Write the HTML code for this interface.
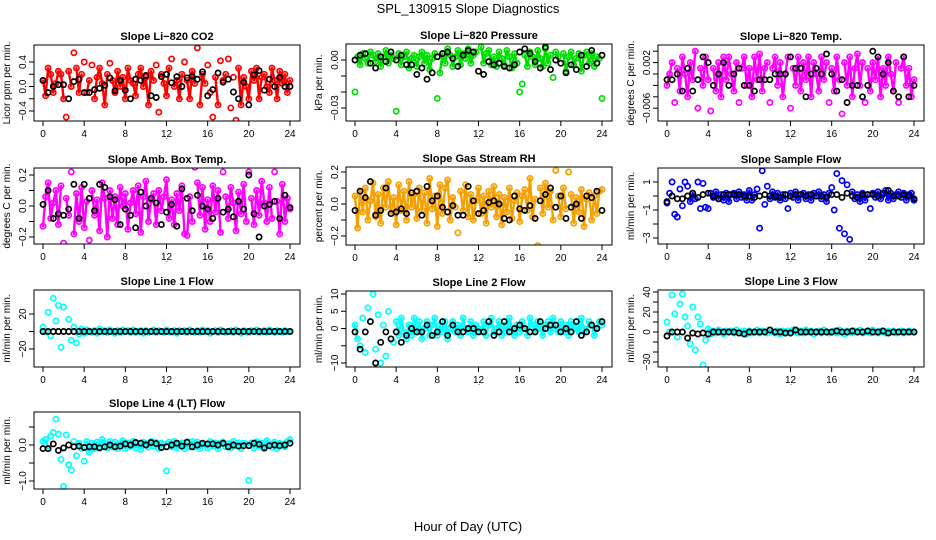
<!DOCTYPE html>
<html><head><meta charset="utf-8">
<style>
html,body{margin:0;padding:0;background:#fff;}
svg{display:block;font-family:"Liberation Sans",Arial,sans-serif;}
</style></head>
<body>
<svg id="chart" width="936" height="540" viewBox="0 0 936 540">
<text x="468" y="13" text-anchor="middle" font-size="13">SPL_130915  Slope Diagnostics</text>
<text x="468" y="531" text-anchor="middle" font-size="13">Hour of Day (UTC)</text>
</svg>
<script>
// ---- data (values per panel; x = evenly spaced hours 0..24) ----
const hourTicks = [0,4,8,12,16,20,24];
const co2Color = [0.1,-0.15,0.3,0.2,-0.1,0.05,0.25,0.2, -0.2,-0.5,0.25,0.0,0.55,0.3,-0.1,0.2, 0.4,-0.1,0.1,0.35,-0.2,0.15,0.3,0.05, -0.3,0.2,0.38,0.1,-0.1,0.25,0.0,0.15, -0.2,0.3,0.1,0.05,-0.15,0.2,0.3,0.0, 0.15,-0.3,0.25,0.1,0.35,-0.42,0.2,0.05, -0.15,0.3,0.45,0.0,0.1,-0.2,0.2,0.4, 0.1,-0.2,0.25,0.05,0.63,-0.3,0.2,0.05, 0.35,-0.1,-0.5,0.15,-0.3,0.42,0.1,0.2, 0.45,-0.35,0.15,-0.55,0.3,-0.3,0.15,0.0, -0.2,0.25,0.1,0.3,-0.2,0.15,0.2,0.0, -0.1,0.3,0.1,-0.2,0.25,0.05,0.2,-0.1, 0.1];
const co2Black = [0.1,-0.1,0.0,0.03,0.03,-0.2,0.08,0.12,-0.1,-0.1,-0.05,-0.03,0.02,0.14,-0.07,0.1,-0.06,-0.2,0.12,0.1,0.18,-0.15,-0.18,0.16,0.2,0.06,0.16,0.0,0.14,0.17,0.12,0.24,-0.15,-0.05,0.22,0.07,0.12,-0.09,-0.2,0.07,-0.3,0.19,0.26,-0.06,0.12,0.0,0.15,0.0,0.0];
const presColor = [-0.02,0.002,-0.003,0.004,0.001,-0.002,0.005,0.003, -0.001,0.004,-0.004,0.002,0.006,-0.002,0.003,0.001, -0.032,0.004,-0.003,0.002,0.005,-0.005,0.001,0.003, -0.004,0.002,0.005,-0.002,0.003,-0.006,0.001,0.004, -0.024,-0.008,0.004,-0.002,0.007,0.003,-0.004,0.002, 0.006,-0.003,0.004,0.001,0.007,-0.002,0.003,0.005, -0.047,0.008,-0.002,0.004,0.006,-0.003,0.002,-0.004, 0.005,0.001,-0.003,0.006,0.002,-0.005,0.004,-0.002, -0.02,-0.015,0.003,-0.004,0.005,0.002,-0.003,0.006, 0.001,-0.004,0.007,-0.002,0.003,-0.011,0.005,0.002, -0.047,0.004,-0.007,0.002,0.005,-0.003,0.001,0.004, -0.007,0.003,0.005,-0.002,0.004,-0.004,0.002,0.001, -0.024];
const presBlack = [0.0,0.003,0.004,-0.002,-0.005,0.002,-0.001,0.005,0.0,0.003,-0.003,-0.003,-0.009,-0.005,-0.012,-0.008,0.002,0.004,0.005,0.001,-0.004,0.003,0.006,0.005,-0.007,-0.009,-0.001,-0.003,-0.002,-0.004,-0.005,-0.003,0.005,0.007,0.004,-0.001,-0.005,0.008,-0.006,0.0,-0.002,-0.008,-0.003,-0.006,0.003,-0.004,0.006,-0.002,0.003];
const tempColor = [-0.002,0.0,0.002,-0.005,0.001,-0.003,0.003,0.0, -0.004,0.002,-0.001,0.004,-0.006,0.001,-0.002,0.003, -0.001,-0.0065,0.001,-0.003,0.002,-0.004,0.003,-0.001, 0.003,0.0,-0.003,0.002,-0.005,0.001,0.003,-0.002, 0.001,-0.004,0.003,-0.001,0.0035,-0.003,0.001,0.002, -0.005,0.001,0.003,-0.002,0.002,-0.004,0.0,0.003, -0.006,0.001,-0.002,0.003,-0.003,0.002,-0.001,0.003, -0.004,0.002,0.0,-0.003,0.003,-0.001,0.002,-0.005, 0.001,-0.003,0.003,-0.001,-0.007,0.002,-0.002,0.003, -0.004,0.001,0.0035,-0.002,0.002,-0.005,0.001,-0.003, 0.002,-0.001,0.003,-0.004,0.001,-0.002,0.003,0.0, -0.003,0.002,-0.005,0.001,0.003,-0.002,0.001,-0.004, -0.001];
const tempBlack = [-0.001,-0.001,0.0,-0.003,0.001,-0.003,-0.001,0.003,0.002,-0.002,0.0,0.002,-0.002,0.0,0.001,-0.002,-0.002,-0.003,-0.001,-0.001,-0.001,0.0,0.0,0.0,0.003,0.001,0.001,-0.004,0.0,0.001,0.0,0.0035,0.0,-0.003,-0.001,-0.005,-0.002,-0.002,-0.004,-0.002,0.004,0.003,0.0,0.002,-0.003,-0.004,0.003,-0.004,-0.002];
const ambColor = [-0.13,0.06,0.15,-0.08,0.02,0.1,-0.12,0.13, -0.24,0.05,-0.06,0.22,-0.18,0.08,-0.1,0.12, -0.14,0.03,-0.22,0.1,-0.06,0.04,-0.16,0.15, 0.05,-0.2,0.1,-0.08,0.06,-0.12,0.12,0.0, 0.08,-0.15,0.02,0.1,-0.05,0.13,-0.17,0.06, 0.16,-0.1,0.04,0.08,-0.12,0.1,-0.03,0.06, 0.17,-0.08,0.04,-0.12,0.08,-0.03,0.13,-0.18, -0.19,0.06,-0.1,0.25,0.15,-0.06,0.12,-0.15, 0.04,-0.1,0.13,-0.04,0.1,-0.17,0.22,0.06, -0.08,0.12,0.02,-0.16,0.09,-0.05,0.14,-0.1, 0.22,0.05,-0.12,0.1,-0.06,0.16,0.02,-0.1, 0.12,-0.08,0.22,0.03,-0.18,0.14,-0.1,0.05, -0.02];
const ambBlack = [0.01,0.1,-0.08,-0.05,-0.06,-0.02,0.14,-0.08,0.14,0.05,-0.03,0.14,0.12,0.06,0.04,-0.12,-0.02,-0.06,-0.14,0.09,0.0,0.05,0.02,-0.12,-0.04,0.01,-0.13,0.11,0.05,-0.03,0.07,0.0,-0.02,-0.08,0.05,-0.04,-0.02,-0.07,0.03,-0.02,0.2,-0.05,-0.2,0.0,0.01,0.03,-0.08,0.07,-0.01];
const rhColor = [0.05,-0.15,0.08,-0.05,0.1,-0.1,0.02,0.13, -0.08,0.06,-0.12,0.1,-0.02,0.14,-0.06,0.04, -0.13,0.12,-0.04,0.08,-0.1,0.14,-0.02,0.06, -0.09,0.1,-0.04,0.07,-0.12,0.16,-0.03,0.05, -0.14,0.12,-0.06,0.1,0.15,-0.1,0.04,-0.02, -0.18,0.08,-0.04,0.12,-0.08,0.06,-0.1,0.02, 0.1,-0.06,0.05,-0.12,0.08,-0.02,0.11,-0.08, 0.06,-0.13,0.04,-0.05,0.1,-0.09,0.02,0.07, -0.11,0.05,0.09,-0.04,0.16,-0.08,0.03,-0.26, 0.1,-0.06,0.13,-0.02,0.08,-0.1,0.21,0.05, -0.08,0.1,-0.03,0.2,0.06,-0.12,0.04,-0.05, 0.09,-0.14,0.03,0.07,-0.1,0.05,-0.06,0.08, 0.09];
const rhBlack = [-0.04,0.08,0.04,0.14,-0.07,-0.04,0.1,-0.06,-0.05,-0.03,-0.06,0.07,0.08,-0.07,0.11,0.02,0.05,-0.02,-0.05,-0.01,-0.07,-0.07,0.11,0.02,-0.06,-0.04,0.01,0.02,0.0,-0.09,-0.1,0.05,-0.03,-0.04,-0.01,-0.09,0.02,0.06,0.1,-0.02,0.05,-0.09,-0.02,0.0,-0.09,0.05,0.04,0.08,-0.04];
const flowColor = [-0.5,0.2,1.0,-1.3,-1.5,0.5,-0.7,1.0, 0.7,-0.4,0.2,-0.2,1.0,-0.9,0.9,-0.8, -0.9,0.2,-0.1,0.3,-0.2,0.1,-0.3,0.2, -0.4,0.1,0.2,-0.2,0.3,-0.1,0.1,-0.3, 0.4,-0.3,0.1,0.5,-2.3,1.8,-0.6,0.7, -0.2,0.3,-0.1,0.2,-0.3,0.1,-0.2,-0.9, 0.2,-0.1,0.3,-0.3,0.1,0.2,-0.2,0.1, -0.3,0.2,0.0,0.3,-0.2,0.1,-0.4,0.2, 0.6,-1.0,1.6,-2.3,1.1,-2.7,0.8,-3.1, 0.3,-0.2,0.1,-0.4,0.2,-0.3,0.1,-0.9, 0.2,-0.1,0.3,-0.2,0.1,0.4,-0.3,0.2, -0.2,0.1,0.3,-0.1,0.2,-0.3,0.1,0.2, -0.3];
const flowBlack = [-0.4,0.0,-0.2,-0.2,0.0,0.2,-0.1,0.1,0.2,0.0,-0.2,0.1,0.1,0.1,0.1,0.0,0.0,-0.1,0.0,0.1,0.0,0.0,-0.1,0.1,0.0,0.1,0.1,0.0,0.1,0.0,0.0,-0.1,0.1,0.1,-0.1,0.2,0.0,-0.1,0.1,0.1,0.1,0.0,0.2,0.4,0.0,0.0,0.1,0.0,-0.2];
const line1Color = [5,0,22,-5,38,12,30,-18, 28,-48,14,-10,5,-13,-3,3, -2,2,0,-1,1,-2,3,0, 1,-1,2,0,-2,1,-1,2, 0,1,-1,2,-1,0,1,-2, 1,-1,0,2,-1,1,0,-1, 2,0,-1,1,-2,1,0,1, -1,2,0,-1,1,-1,2,0, 1,-2,0,1,-1,2,0,-1, 0,1,-1,2,0,-2,1,0, -1,1,0,2,-1,0,1,-1, 2,0,-1,1,0,-1,1,0, 0];
const line1Black = [0,0,0,0,0,0,0,0,0,0,0,0,0,0,0,0,0,0,0,0,0,0,0,0,0,0,0,0,0,0,0,0,0,0,0,0,0,0,0,0,0,0,0,0,0,0,0,0,0];
const line2Color = [1,-3,-5,3,-7,6,2,10, -6,4,-10,1,-8,5,-3,-4, 2,-2,3,-1,-3,1,-2,3, -1,2,-3,0,2,-2,1,3, -2,1,-1,2,-3,0,2,-1, 1,-2,3,0,-1,2,-2,1, 0,-1,2,-2,1,3,-1,0, 2,-2,1,-1,3,0,-2,1, -1,2,0,-2,3,1,-1,2, 0,-2,1,2,-1,3,0,-1, 2,-1,1,-2,2,0,1,-1, 3,0,-1,2,1,-2,0,2, 1];
const line2Black = [-1,-6,-1,2,-10,-4,-1,-3,-1,-4,-2,0,-1,-1,1,-2,-1,2,-2,1,-1,-1,0,0,-1,-1,2,-2,-1,2,-1,0,1,0,-1,-1,2,0,1,1,-1,0,-1,2,-2,-1,1,0,2];
const line3Color = [10,0,37,18,-5,28,38,15, 6,-12,25,-18,15,8,-33,-8, 3,-2,1,-1,2,0,-2,1, 0,1,-1,2,-1,0,1,-2, 1,-1,0,2,-1,1,0,-1, 2,0,-1,1,-2,1,0,1, -1,2,0,-1,1,-1,2,0, 1,-2,0,1,-1,2,0,-1, 0,1,-1,2,0,-2,1,0, -1,1,0,2,-1,0,1,-1, 2,0,-1,1,0,-1,1,0, 1,-1,0,1,-1,0,1,0, 0];
const line3Black = [-4,0,0,0,-6,-1,-2,-1,-2,0,0,0,0,0,-1,-2,0,0,0,0,2,0,0,-1,-1,2,0,0,0,0,0,0,0,1,0,0,1,0,0,1,0,0,1,-1,0,0,0,0,0];
const line4Color = [0.1,0.15,-0.1,0.25,0.35,0.72,0.3,-0.4, -1.15,0.28,-0.55,-0.7,0.1,-0.3,0.05,-0.1, -0.45,0.1,-0.2,0.05,-0.1,0.08,-0.05,0.15, 0.05,-0.08,0.1,-0.05,0.08,-0.1,0.04,0.12, -0.1,0.06,-0.04,0.1,-0.08,0.05,-0.12,0.08, 0.04,-0.06,0.1,-0.03,0.07,-0.1,0.05,0.02, -0.72,0.08,-0.05,0.1,-0.08,0.03,0.06,-0.1, 0.05,-0.04,0.1,-0.06,0.08,-0.1,0.04,0.02, -0.08,0.1,-0.03,0.06,-0.1,0.05,0.08,-0.05, 0.04,-0.08,0.1,-0.02,0.06,-0.1,0.05,0.03, -0.98,0.06,-0.08,0.1,-0.04,0.05,-0.1,0.12, 0.04,-0.06,0.08,-0.1,0.05,0.02,-0.05,0.1, 0.15];
const line4Black = [-0.1,-0.1,0.03,-0.15,-0.08,0.0,-0.05,-0.03,-0.07,-0.05,-0.05,-0.08,-0.05,0.0,-0.05,-0.03,0.03,0.0,0.07,0.05,0.0,0.07,0.04,-0.07,-0.05,0.0,0.05,-0.03,0.08,-0.05,0.0,0.05,0.03,0.03,0.0,0.05,-0.05,0.0,-0.03,-0.02,-0.02,0.05,0.02,-0.08,-0.02,0.0,-0.02,0.0,0.05];

// ---- layout (not data); band = |value| limit for the overplotted cloud ----
const panels = [
 {name:'li820-co2', title:'Slope Li\u2212820 CO2', ylab:'Licor ppm per min.', box:[34,45,300,121], x0:43,x1:290, v0:0.4,p0:62,v1:-0.4,p1:111, ticks:[-0.4,-0.2,0,0.2,0.4], labels:[[-0.4,'\u22120.4'],[0,'0.0'],[0.4,'0.4']], col:'#ff0000', band:0.31, c:co2Color, b:co2Black},
 {name:'li820-pressure', title:'Slope Li\u2212820 Pressure', ylab:'kPa per min.', box:[346,44,612,121], x0:355,x1:602, v0:0,p0:60,v1:-0.03,p1:108, ticks:[-0.03,-0.02,-0.01,0], labels:[[-0.03,'\u22120.03'],[0,'0.00']], col:'#00dd00', band:0.0085, c:presColor, b:presBlack},
 {name:'li820-temp', title:'Slope Li\u2212820 Temp.', ylab:'degrees C per min.', box:[658,45,924,121], x0:667,x1:914, v0:0,p0:74,v1:0.002,p1:62.6, ticks:[-0.006,-0.004,-0.002,0,0.002,0.004], labels:[[-0.006,'\u22120.006'],[0.002,'0.002']], col:'#ff00ff', band:0.0045, c:tempColor, b:tempBlack},
 {name:'amb-box-temp', title:'Slope Amb. Box Temp.', ylab:'degrees C per min.', box:[34,168,300,244], x0:43,x1:290, v0:0.2,p0:175,v1:-0.2,p1:237, ticks:[-0.2,-0.1,0,0.1,0.2], labels:[[-0.2,'\u22120.2'],[0,'0.0'],[0.2,'0.2']], col:'#ff00ff', band:0.2, c:ambColor, b:ambBlack},
 {name:'gas-stream-rh', title:'Slope Gas Stream RH', ylab:'percent per min.', box:[346,167,612,245], x0:355,x1:602, v0:0.2,p0:172,v1:-0.2,p1:236, ticks:[-0.2,-0.1,0,0.1,0.2], labels:[[-0.2,'\u22120.2'],[0,'0.0'],[0.2,'0.2']], col:'#f5a000', band:0.16, c:rhColor, b:rhBlack},
 {name:'sample-flow', title:'Slope Sample Flow', ylab:'ml/min per min.', box:[658,168,924,244], x0:667,x1:914, v0:1,p0:182,v1:-1,p1:210, ticks:[-3,-2,-1,0,1], labels:[[-3,'\u22123'],[-1,'\u22121'],[1,'1']], col:'#0000ff', band:0.45, c:flowColor, b:flowBlack},
 {name:'line1-flow', title:'Slope Line 1 Flow', ylab:'ml/min per min.', box:[34,290,300,367], x0:43,x1:290, v0:20,p0:314,v1:-20,p1:349, ticks:[-20,0,20], labels:[[-20,'\u221220'],[20,'20']], col:'#00ffff', band:4, c:line1Color, b:line1Black},
 {name:'line2-flow', title:'Slope Line 2 Flow', ylab:'ml/min per min.', box:[346,291,612,367], x0:355,x1:602, v0:10,p0:294,v1:-10,p1:363, ticks:[-10,-5,0,5,10], labels:[[-10,'\u221210'],[0,'0'],[5,'5'],[10,'10']], col:'#00ffff', band:3.5, c:line2Color, b:line2Black},
 {name:'line3-flow', title:'Slope Line 3 Flow', ylab:'ml/min per min.', box:[658,290,924,367], x0:667,x1:914, v0:0,p0:332,v1:40,p1:292, ticks:[-30,-20,-10,0,10,20,30,40], labels:[[-30,'\u221230'],[0,'0'],[20,'20'],[40,'40']], col:'#00ffff', band:4, c:line3Color, b:line3Black},
 {name:'line4-flow', title:'Slope Line 4 (LT) Flow', ylab:'ml/min per min.', box:[34,412,300,489], x0:43,x1:290, v0:0,p0:445,v1:-1,p1:481, ticks:[-1,-0.5,0,0.5], labels:[[-1,'\u22121.0'],[0,'0.0']], col:'#00ffff', band:0.2, c:line4Color, b:line4Black}
];

const NS = 'http://www.w3.org/2000/svg';
const svg = document.getElementById('chart');
function mk(tag, attrs, parent){ const e=document.createElementNS(NS,tag); for(const k in attrs) e.setAttribute(k,attrs[k]); parent.appendChild(e); return e; }

panels.forEach(function(p){
  const g = mk('g',{},svg);
  
  
  const [L,T,R,B] = p.box;
  const xs = h => p.x0 + (p.x1-p.x0)*h/24;
  const ys = v => p.p0 + (p.p1-p.p0)*(v-p.v0)/(p.v1-p.v0);
  const clip = mk('clipPath',{id:'clip-'+p.name},g);
  mk('rect',{x:L,y:T,width:R-L,height:B-T},clip);
  const pts = mk('g',{'clip-path':'url(#clip-'+p.name+')'},g);
  
  
  // dense cloud: connect consecutive in-band colored observations (mimics heavy overplotting)
  const n0 = p.c.length;
  let d = '';
  for (let i=0;i<n0-1;i++){
    const a=p.c[i], b=p.c[i+1];
    if (Math.abs(a)<=p.band && Math.abs(b)<=p.band){
      d += 'M'+xs(i*24/(n0-1)).toFixed(1)+','+ys(a).toFixed(1)+'L'+xs((i+1)*24/(n0-1)).toFixed(1)+','+ys(b).toFixed(1);
    }
  }
  const cloud = mk('path',{d:d, fill:'none', stroke:p.col, 'stroke-width':2.4, 'stroke-linecap':'round'},pts);
  
  
  function series(arr,color,nm){
    const n = arr.length;
    arr.forEach(function(v,i){
      const c = mk('circle',{cx:xs(i*24/(n-1)).toFixed(1), cy:ys(v).toFixed(1), r:2.6, fill:'none', stroke:color, 'stroke-width':1.7},pts);
      
      
    });
  }
  series(p.c,p.col,p.name+'-point');
  series(p.b,'#000000',p.name+'-mean-point');
  const box = mk('rect',{x:L,y:T,width:R-L,height:B-T,fill:'none',stroke:'#000','stroke-width':1},g);
  
  
  const title = mk('text',{x:(L+R)/2,y:T-5,'text-anchor':'middle','font-size':11,'font-weight':'bold'},g);
  title.textContent = p.title;
  
  
  hourTicks.forEach(function(h){
    const x = xs(h);
    mk('line',{x1:x,x2:x,y1:B,y2:B+5,stroke:'#000'},g);
    const t = mk('text',{x:x,y:B+16,'text-anchor':'middle','font-size':10},g);
    t.textContent = h;
    
    
  });
  const dot = mk('text',{x:(L+R)/2,y:B+18,'text-anchor':'middle','font-size':8},g);
  dot.textContent = '.';
  
  
  p.ticks.forEach(function(v){
    const y = ys(v);
    if (y < T-1 || y > B+1) return;
    mk('line',{x1:L-5,x2:L,y1:y,y2:y,stroke:'#000'},g);
  });
  p.labels.forEach(function(lb){
    const y = ys(lb[0]);
    const t = mk('text',{x:0,y:0,'text-anchor':'middle','font-size':10,transform:'translate('+(L-8)+','+y+') rotate(-90)'},g);
    t.textContent = lb[1];
    
    
  });
  const yl = mk('text',{x:0,y:0,'text-anchor':'middle','font-size':10,transform:'translate('+(L-24)+','+((T+B)/2)+') rotate(-90)'},g);
  yl.textContent = p.ylab;
  
  
});
</script>
</body></html>
